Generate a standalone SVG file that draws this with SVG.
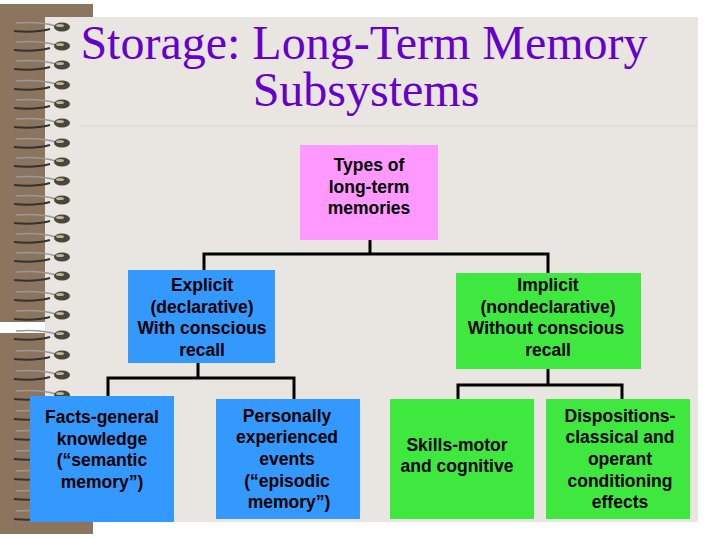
<svg xmlns="http://www.w3.org/2000/svg" width="720" height="540" viewBox="0 0 720 540">
<defs>
<style>
.t{font-family:"Liberation Sans",Arial,sans-serif;font-weight:bold;font-size:17.5px;fill:#000;text-anchor:middle}
.blue{fill:#3399ff}.green{fill:#3fe83f}
.c{stroke:#000;stroke-width:3;fill:none}
</style>
<g id="ring"><path d="M16 -4 Q40 -6 56 -1" stroke="#999" stroke-width="1.5" fill="none"/><path d="M14 4 Q35 6 50 2" stroke="#333" stroke-width="2" fill="none"/><ellipse cx="62" cy="0" rx="8" ry="4.5" fill="#4a4638"/><ellipse cx="60" cy="-1.5" rx="4" ry="1.5" fill="#b8b4a0"/></g>
</defs>
<rect width="720" height="540" fill="#fff"/>
<rect x="0" y="4" width="93" height="318" fill="#8c755f"/>
<rect x="0" y="333" width="47" height="201" fill="#8c755f"/>
<rect x="0" y="522" width="93" height="12" fill="#8c755f"/>
<rect x="45" y="17" width="653" height="505" fill="#e9e5e1"/>
<line x1="80" y1="126" x2="698" y2="126" stroke="#d8d4d0" stroke-width="1"/>
<g id="spiral">
<use href="#ring" y="27"/><use href="#ring" y="46"/><use href="#ring" y="65"/><use href="#ring" y="85"/><use href="#ring" y="104"/><use href="#ring" y="123"/><use href="#ring" y="143"/><use href="#ring" y="162"/><use href="#ring" y="181"/><use href="#ring" y="200"/><use href="#ring" y="219"/><use href="#ring" y="238"/><use href="#ring" y="257"/><use href="#ring" y="276"/><use href="#ring" y="296"/><use href="#ring" y="315"/><use href="#ring" y="335"/><use href="#ring" y="355"/><use href="#ring" y="375"/><use href="#ring" y="395"/><use href="#ring" y="415"/><use href="#ring" y="435"/><use href="#ring" y="455"/><use href="#ring" y="475"/><use href="#ring" y="495"/><use href="#ring" y="515"/>
</g>
<g id="title" font-family="'Liberation Serif','Times New Roman',serif" font-size="48" fill="#6600cc" text-anchor="middle">
<text x="364" y="59">Storage: Long-Term Memory</text>
<text x="366" y="106">Subsystems</text>
</g>
<g id="connectors" class="c">
<path class="c" d="M370 240V254M204 270V254H548V273"/>
<path class="c" d="M198 363V378M108 396V378H294V399"/>
<path class="c" d="M548 369V385M458 399V385H622V399"/>
</g>
<g id="types"><rect x="300" y="145" width="138" height="95" fill="#ff99ff"/>
<text class="t" x="369" y="171">Types of</text><text class="t" x="369" y="193">long-term</text><text class="t" x="369" y="214">memories</text></g>
<g id="explicit"><rect class="blue" x="128" y="270" width="147" height="93"/>
<text class="t" x="202" y="291">Explicit</text><text class="t" x="202" y="313">(declarative)</text><text class="t" x="202" y="334">With conscious</text><text class="t" x="202" y="356">recall</text></g>
<g id="implicit"><rect class="green" x="456" y="273" width="185" height="96"/>
<text class="t" x="548" y="291">Implicit</text><text class="t" x="548" y="313">(nondeclarative)</text><text class="t" x="546" y="334">Without  conscious</text><text class="t" x="548" y="356">recall</text></g>
<g id="facts"><rect class="blue" x="30" y="396" width="144" height="126"/>
<text class="t" x="102" y="423">Facts-general</text><text class="t" x="102" y="445">knowledge</text><text class="t" x="102" y="466">(“semantic</text><text class="t" x="102" y="488">memory”)</text></g>
<g id="episodic"><rect class="blue" x="216" y="399" width="144" height="120"/>
<text class="t" x="287" y="422">Personally</text><text class="t" x="287" y="443">experienced</text><text class="t" x="287" y="465">events</text><text class="t" x="287" y="487">(“episodic</text><text class="t" x="289" y="508">memory”)</text></g>
<g id="skills"><rect class="green" x="390" y="399" width="144" height="120"/>
<text class="t" x="457" y="451">Skills-motor</text><text class="t" x="457" y="472">and cognitive</text></g>
<g id="dispositions"><rect class="green" x="546" y="399" width="144" height="120"/>
<text class="t" x="620" y="422">Dispositions-</text><text class="t" x="620" y="443">classical and</text><text class="t" x="620" y="465">operant</text><text class="t" x="620" y="487">conditioning</text><text class="t" x="620" y="508">effects</text></g>
</svg>
